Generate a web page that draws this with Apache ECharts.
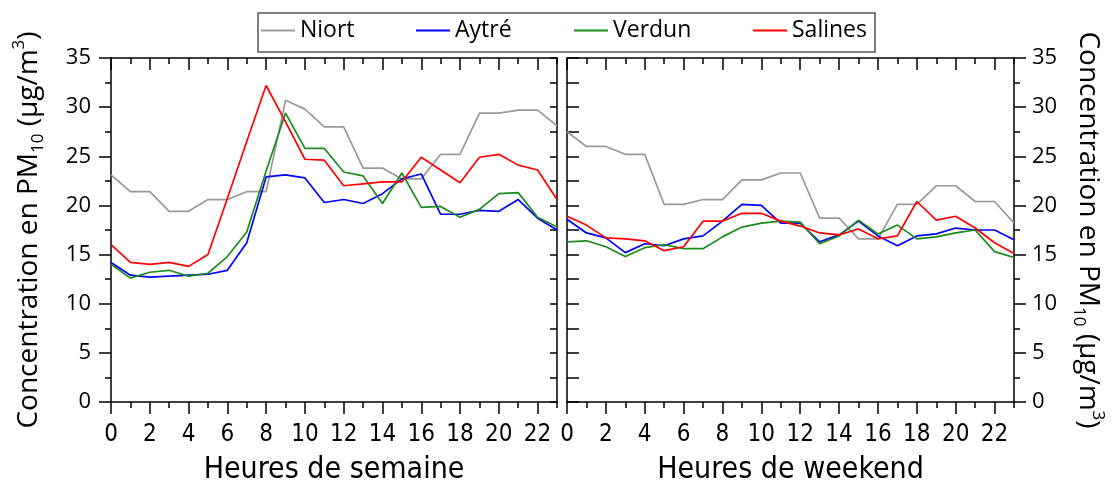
<!DOCTYPE html>
<html><head><meta charset="utf-8">
<script src="https://cdn.jsdelivr.net/npm/echarts@6/dist/echarts.min.js"></script>
<style>html,body{margin:0;padding:0;background:#fff}#c{width:1112px;height:490px}</style>
</head><body><div id="c"></div>
<script>
// ---- data ----
const hours = ['0','1','2','3','4','5','6','7','8','9','10','11','12','13','14','15','16','17','18','19','20','21','22','23'];
const seriesNames = ['Niort', 'Aytré', 'Verdun', 'Salines'];
const yTicks = [0, 5, 10, 15, 20, 25, 30, 35];

const weekNiort   = [23.1,21.4,21.4,19.4,19.4,20.6,20.6,21.4,21.4,30.7,29.8,28.0,28.0,23.8,23.8,22.7,22.7,25.2,25.2,29.4,29.4,29.7,29.7,28.1];
const weekAytre   = [14.2,12.9,12.7,12.8,12.9,13.0,13.4,16.2,22.9,23.1,22.8,20.3,20.6,20.2,21.2,22.7,23.2,19.1,19.1,19.5,19.4,20.6,18.7,17.5];
const weekVerdun  = [14.0,12.6,13.2,13.4,12.8,13.1,14.8,17.3,23.5,29.4,25.8,25.8,23.4,23.0,20.2,23.3,19.8,19.9,18.8,19.6,21.2,21.3,18.8,17.8];
const weekSalines = [16.0,14.2,14.0,14.2,13.8,15.0,20.7,26.5,32.2,28.5,24.7,24.6,22.0,22.2,22.4,22.4,24.9,23.6,22.3,24.9,25.2,24.1,23.6,20.6];

const wkendNiort   = [27.5,26.0,26.0,25.2,25.2,20.1,20.1,20.6,20.6,22.6,22.6,23.3,23.3,18.7,18.7,16.6,16.6,20.1,20.1,22.0,22.0,20.4,20.4,18.2];
const wkendAytre   = [18.6,17.2,16.7,15.2,16.1,15.9,16.6,16.9,18.4,20.1,20.0,18.2,18.2,16.3,17.0,18.4,16.9,15.9,16.9,17.1,17.7,17.5,17.5,16.5];
const wkendVerdun  = [16.3,16.4,15.8,14.8,15.7,16.0,15.6,15.6,16.8,17.8,18.2,18.4,18.3,16.1,16.9,18.5,17.1,18.0,16.6,16.8,17.2,17.5,15.3,14.7];
const wkendSalines = [18.9,18.0,16.7,16.6,16.4,15.4,15.8,18.4,18.4,19.2,19.2,18.4,17.9,17.2,17.0,17.6,16.6,16.9,20.4,18.5,18.9,17.7,16.2,15.1];

const weekData = [weekNiort, weekAytre, weekVerdun, weekSalines];
const wkendData = [wkendNiort, wkendAytre, wkendVerdun, wkendSalines];
const colors = ['#999999', '#0000ff', '#1a8c1a', '#ff0000'];
const xNames = ['Heures de semaine', 'Heures de weekend'];
const yName = 'Concentration en PM{sub|10} (µg/m{sup|3})';

// ---- styles ----
const BLACK = '#000';
const narrow = "'Liberation Sans Narrow', 'DejaVu Sans Condensed', sans-serif";
const sans = "'Open Sans', 'Noto Sans', sans-serif";
const lineSt = {color: BLACK, width: 1.5};
const nameStyle = {
  fontSize: 28, fontFamily: sans, color: BLACK,
  rich: {
    sub: {fontSize: 17, fontFamily: sans, color: BLACK, verticalAlign: 'bottom', padding: [0, 0, -4, 0]},
    sup: {fontSize: 17, fontFamily: sans, color: BLACK, verticalAlign: 'top', padding: [-4, 0, 0, 0]}
  }
};

function xAxes(g) {
  const base = {type: 'category', gridIndex: g, data: hours, boundaryGap: false, splitLine: {show: false}};
  return [
    Object.assign({}, base, {
      position: 'bottom',
      axisLine: {show: true, onZero: false, lineStyle: lineSt},
      axisTick: {show: true, interval: 1, length: 12, lineStyle: lineSt},
      axisLabel: {interval: 1, fontSize: 24, fontFamily: narrow, color: BLACK, margin: 21},
      name: xNames[g], nameLocation: 'middle', nameGap: 53,
      nameTextStyle: {fontSize: 30, fontFamily: narrow, color: BLACK}
    }),
    Object.assign({}, base, {
      position: 'bottom',
      axisLine: {show: false, onZero: false},
      axisTick: {show: true, interval: 0, length: 6, lineStyle: lineSt},
      axisLabel: {show: false}
    }),
    Object.assign({}, base, {
      position: 'top',
      axisLine: {show: true, onZero: false, lineStyle: lineSt},
      axisTick: {show: true, inside: true, interval: 1, length: 12, lineStyle: lineSt},
      axisLabel: {show: false}
    }),
    Object.assign({}, base, {
      position: 'top',
      axisLine: {show: false, onZero: false},
      axisTick: {show: true, inside: true, interval: 0, length: 6, lineStyle: lineSt},
      axisLabel: {show: false}
    })
  ];
}

function yAxis(g, pos, opts) {
  return Object.assign({
    type: 'value', gridIndex: g, position: pos,
    min: yTicks[0], max: yTicks[yTicks.length - 1], interval: yTicks[1] - yTicks[0],
    splitLine: {show: false}, minorSplitLine: {show: false},
    axisLine: {show: true, onZero: false, lineStyle: lineSt}
  }, opts);
}

const option = {
  animation: false,
  backgroundColor: '#fff',
  grid: [
    {left: 111, top: 58, width: 446, height: 350},
    {left: 567, top: 58, width: 447, height: 350}
  ],
  xAxis: [].concat(xAxes(0), xAxes(1)),
  yAxis: [
    yAxis(0, 'left', {
      axisTick: {show: true, length: 12, lineStyle: lineSt},
      minorTick: {show: true, splitNumber: 2, length: 6, lineStyle: lineSt},
      axisLabel: {fontSize: 22, fontFamily: sans, color: BLACK, margin: 20},
      name: yName, nameLocation: 'middle', nameGap: 68, nameTextStyle: nameStyle
    }),
    yAxis(0, 'right', {
      axisTick: {show: true, inside: true, length: 7, lineStyle: lineSt},
      minorTick: {show: true, splitNumber: 2, length: 7, lineStyle: lineSt},
      axisLabel: {show: false}
    }),
    yAxis(1, 'left', {
      axisTick: {show: true, inside: true, length: 12, lineStyle: lineSt},
      minorTick: {show: true, splitNumber: 2, length: 12, lineStyle: lineSt},
      axisLabel: {show: false}
    }),
    yAxis(1, 'right', {
      axisTick: {show: true, length: 12, lineStyle: lineSt},
      minorTick: {show: true, splitNumber: 2, length: 6, lineStyle: lineSt},
      axisLabel: {fontSize: 22, fontFamily: sans, color: BLACK, margin: 18},
      name: yName, nameLocation: 'middle', nameGap: 60, nameRotate: -90, nameTextStyle: nameStyle
    })
  ],
  legend: seriesNames.map((n, i) => ({
    data: [n], left: [261, 416, 574, 753][i], top: 19, padding: 0,
    icon: 'rect', itemWidth: 34, itemHeight: 2, selectedMode: false,
    textStyle: {fontSize: 23, fontFamily: sans, color: BLACK}
  })),
  graphic: [{
    type: 'rect', shape: {x: 258, y: 13, width: 617, height: 39},
    style: {fill: 'none', stroke: '#555', lineWidth: 1.5}
  }],
  series: [].concat(
    seriesNames.map((n, i) => ({
      name: n, type: 'line', xAxisIndex: 0, yAxisIndex: 0, data: weekData[i],
      symbol: 'none', color: colors[i], lineStyle: {width: 1.7, color: colors[i]}
    })),
    seriesNames.map((n, i) => ({
      name: n, type: 'line', xAxisIndex: 4, yAxisIndex: 2, data: wkendData[i],
      symbol: 'none', color: colors[i], lineStyle: {width: 1.7, color: colors[i]}
    }))
  )
};

const chart = echarts.init(document.getElementById('c'), null, {renderer: 'canvas'});
chart.setOption(option);
</script>
</body></html>
